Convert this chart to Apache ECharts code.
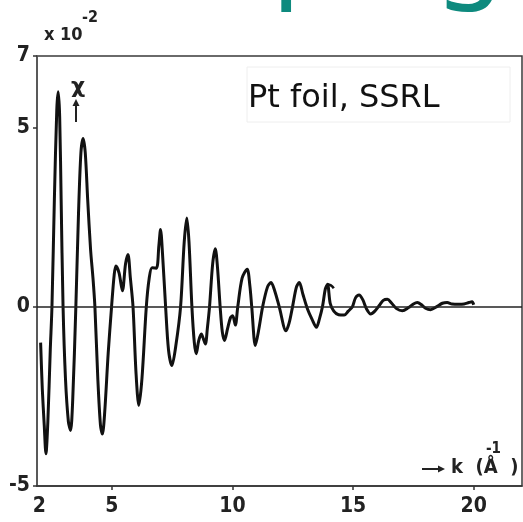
<!DOCTYPE html>
<html>
<head>
<meta charset="utf-8">
<script src="https://cdn.jsdelivr.net/npm/echarts@6/dist/echarts.min.js"></script>
<style>html,body{margin:0;padding:0;background:#fff;}#c{width:523px;height:522px;}</style>
</head>
<body>
<div id="c"></div>
<script>
// k values (Å^-1)
var kValues = [2.05,2.12,2.2,2.27,2.35,2.45,2.52,2.62,2.72,2.78,2.84,2.9,2.98,3.08,3.2,3.29,3.38,3.51,3.62,3.72,3.81,3.9,4.0,4.12,4.22,4.30,4.42,4.53,4.61,4.7,4.85,4.99,5.1,5.17,5.3,5.44,5.57,5.67,5.77,5.88,6.0,6.12,6.25,6.43,6.55,6.67,6.85,6.95,7.02,7.1,7.23,7.35,7.49,7.65,7.85,8.0,8.11,8.2,8.32,8.42,8.5,8.6,8.71,8.8,8.88,8.96,9.05,9.18,9.29,9.38,9.49,9.58,9.67,9.8,9.92,10.01,10.12,10.22,10.4,10.61,10.72,10.80,10.95,11.1,11.25,11.45,11.6,11.75,11.94,12.22,12.35,12.49,12.65,12.77,12.92,13.11,13.3,13.48,13.6,13.73,13.85,13.94,14.05,14.2,14.4,14.63,14.8,14.97,15.1,15.25,15.4,15.55,15.73,15.9,16.1,16.25,16.42,16.6,16.8,17.04,17.3,17.5,17.66,17.85,18.0,18.21,18.45,18.7,18.9,19.1,19.38,19.6,19.8,19.93,20.0];
// chi values (x 10^-2)
var chiValues = [-1.0,-2.3,-3.3,-4.1,-3.2,-1.2,0.0,3.0,5.5,6.0,5.3,3.0,0.0,-2.0,-3.2,-3.45,-2.6,0.0,2.6,4.3,4.7,4.3,3.0,1.6,0.8,0.0,-2.0,-3.3,-3.55,-3.0,-1.3,0.0,0.9,1.14,0.95,0.45,1.2,1.46,0.8,0.0,-1.8,-2.75,-2.0,0.0,0.8,1.09,1.08,1.7,2.16,1.5,0.0,-1.2,-1.64,-1.1,0.0,1.8,2.48,1.8,0.0,-1.0,-1.31,-0.95,-0.76,-0.9,-1.04,-0.6,0.0,1.2,1.62,1.1,0.0,-0.7,-0.94,-0.6,-0.3,-0.25,-0.51,0.0,0.8,1.05,0.6,0.0,-1.08,-0.6,0.0,0.55,0.68,0.45,0.0,-0.67,-0.45,0.0,0.55,0.68,0.35,-0.06,-0.35,-0.57,-0.35,0.0,0.5,0.63,0.1,-0.12,-0.22,-0.23,-0.12,0.0,0.25,0.33,0.2,-0.05,-0.2,-0.12,0.05,0.18,0.21,0.1,-0.05,-0.11,-0.02,0.08,0.12,0.05,-0.04,-0.08,0.0,0.1,0.12,0.08,0.07,0.08,0.12,0.14,0.06];
// small hook stroke at the k≈14 peak
var hookK = [13.94, 14.08, 14.2];
var hookChi = [0.63, 0.6, 0.52];
var xTickLabels = [2, 5, 10, 15, 20];
var xTicks = [5, 10, 15, 20];
var yTickLabels = [-5, 0, 5, 7];

var curve = kValues.map(function(k, i){ return [k, chiValues[i]]; });
var hook = hookK.map(function(k, i){ return [k, hookChi[i]]; });

var lblFont = "'Liberation Sans Narrow','DejaVu Sans Condensed','Roboto Condensed',sans-serif";
var chart = echarts.init(document.getElementById('c'), null, {renderer: 'canvas'});
chart.setOption({
  animation: false,
  backgroundColor: '#fff',
  grid: {left: 37, right: 1, top: 56, bottom: 36, show: true, borderColor: '#3a3a3a', borderWidth: 1.5},
  xAxis: {
    type: 'value', min: 1.9, max: 22,
    axisLine: {show: true, onZero: false, lineStyle: {color: '#333', width: 1.5}},
    axisTick: {show: true, customValues: xTicks, length: 4, lineStyle: {color: '#333', width: 1.5}},
    axisLabel: {customValues: xTickLabels, margin: 10, fontSize: 21, fontWeight: 'bold', color: '#222', fontFamily: lblFont},
    splitLine: {show: false}
  },
  yAxis: {
    type: 'value', min: -5, max: 7,
    axisLine: {show: true, onZero: false, lineStyle: {color: '#555', width: 1.5}},
    axisTick: {show: true, customValues: yTickLabels, length: 4, lineStyle: {color: '#333', width: 1.5}},
    axisLabel: {customValues: yTickLabels, margin: 7, fontSize: 21, fontWeight: 'bold', color: '#222', fontFamily: lblFont},
    splitLine: {show: false}
  },
  series: [
    {
      type: 'line', data: curve, smooth: 0.3, showSymbol: false,
      lineStyle: {color: '#111', width: 3},
      markLine: {
        silent: true, symbol: ['none', 'none'], label: {show: false},
        lineStyle: {color: '#222', width: 1.5, type: 'solid'},
        data: [{yAxis: 0}]
      }
    },
    {
      type: 'line', data: hook, smooth: true, showSymbol: false,
      lineStyle: {color: '#111', width: 2.5}
    }
  ],
  graphic: [
    {type: 'text', x: 272, y: -45, style: {text: 'ping', fontSize: 110, fill: '#0e8a7e', verticalAlign: 'middle', fontFamily: "'Noto Sans',sans-serif"}},
    {type: 'text', left: 44, top: 26, style: {text: 'x 10', fontSize: 18, fontWeight: 'bold', fill: '#222', fontFamily: lblFont}},
    {type: 'text', left: 82, top: 10, style: {text: '-2', fontSize: 16, fontWeight: 'bold', fill: '#222', fontFamily: lblFont}},
    {type: 'text', left: 71, top: 76, style: {text: 'χ', fontSize: 22, fontWeight: 'bold', fill: '#222', fontFamily: "'DejaVu Sans',sans-serif"}},
    {type: 'line', shape: {x1: 76, y1: 103, x2: 76, y2: 122}, style: {stroke: '#222', lineWidth: 2}},
    {type: 'polygon', shape: {points: [[72.5, 106], [79.5, 106], [76, 99]]}, style: {fill: '#222'}},
    {type: 'rect', shape: {x: 247, y: 67, width: 263, height: 55}, style: {fill: 'none', stroke: '#eeeeee', lineWidth: 1}},
    {type: 'text', left: 248, top: 83, style: {text: 'Pt foil, SSRL', fontSize: 32, fill: '#111', fontFamily: "'DejaVu Sans',sans-serif"}},
    {type: 'line', shape: {x1: 422, y1: 469, x2: 440, y2: 469}, style: {stroke: '#222', lineWidth: 2}},
    {type: 'polygon', shape: {points: [[438, 465.5], [438, 472.5], [445, 469]]}, style: {fill: '#222'}},
    {type: 'text', left: 451, top: 458, style: {text: 'k  (Å  )', fontSize: 20, fontWeight: 'bold', fill: '#222', fontFamily: lblFont}},
    {type: 'text', left: 486, top: 442, style: {text: '-1', fontSize: 15, fontWeight: 'bold', fill: '#222', fontFamily: lblFont}}
  ]
});
</script>
</body>
</html>
